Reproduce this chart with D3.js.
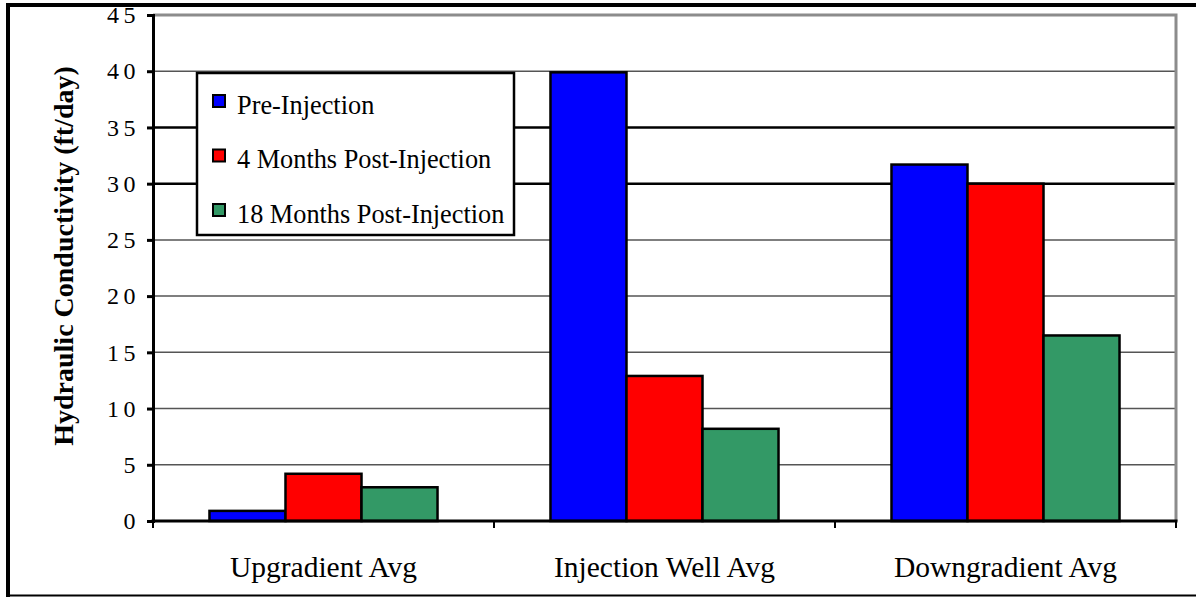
<!DOCTYPE html>
<html>
<head>
<meta charset="utf-8">
<script src="https://cdn.jsdelivr.net/npm/d3@7"></script>
<style>
  html, body { margin: 0; padding: 0; background: #fff; }
  svg { display: block; }
  text { font-family: "Liberation Serif", "Times New Roman", serif; fill: #000; }
</style>
</head>
<body>
<svg id="chart" width="1196" height="597"></svg>
<script>
const categories = ["Upgradient Avg", "Injection Well Avg", "Downgradient Avg"];
const seriesNames = ["Pre-Injection", "4 Months Post-Injection", "18 Months Post-Injection"];
const preInjection = [0.9, 39.9, 31.7];
const post4Months = [4.2, 12.9, 30.0];
const post18Months = [3.0, 8.2, 16.5];
const yTicks = [0, 5, 10, 15, 20, 25, 30, 35, 40, 45];
const colors = ["#0000ff", "#ff0000", "#339966"];
const yLabel = "Hydraulic Conductivity (ft/day)";

const seriesValues = [preInjection, post4Months, post18Months];
const data = categories.map((c, i) => ({
  cat: c,
  vals: seriesNames.map((s, j) => ({ s, j, v: seriesValues[j][i] }))
}));

const svg = d3.select("#chart");
const pLeft = 153, pRight = 1176, pTop = 15, pBottom = 521;
const serif = "Liberation Serif, Times New Roman, serif";

const x0 = d3.scaleBand().domain(categories).range([pLeft, pRight]).paddingInner(0).paddingOuter(0);
const x1 = d3.scaleBand().domain(seriesNames).range([0, x0.bandwidth()]).paddingInner(0).paddingOuter(0.743);
const y = d3.scaleLinear().domain([0, 45]).range([pBottom, pTop]);

// outer frame
svg.append("line").attr("x1", 6).attr("x2", 1196).attr("y1", 5).attr("y2", 5).attr("stroke", "#000").attr("stroke-width", 4);
svg.append("line").attr("x1", 8).attr("x2", 8).attr("y1", 3).attr("y2", 597).attr("stroke", "#000").attr("stroke-width", 4);
svg.append("line").attr("x1", 6).attr("x2", 1196).attr("y1", 595.5).attr("y2", 595.5).attr("stroke", "#000").attr("stroke-width", 2);

// gridlines
const gridTicks = yTicks.filter(t => t > 0 && t < 45);
svg.append("g").selectAll("line").data(gridTicks).join("line")
  .attr("x1", pLeft).attr("x2", pRight)
  .attr("y1", d => y(d)).attr("y2", d => y(d))
  .attr("stroke", d => (d === 30 || d === 35) ? "#000" : "#555")
  .attr("stroke-width", d => (d === 30 || d === 35) ? 2.5 : 1.5);

// plot area top/right grey border
svg.append("path")
  .attr("d", `M${pLeft},${y(45)}H${pRight}V${y(0)}`)
  .attr("fill", "none").attr("stroke", "#8c8c8c").attr("stroke-width", 3);

// bars
const groups = svg.append("g").selectAll("g").data(data).join("g")
  .attr("transform", d => `translate(${x0(d.cat)},0)`);
groups.selectAll("rect").data(d => d.vals).join("rect")
  .attr("x", d => x1(d.s))
  .attr("width", x1.bandwidth())
  .attr("y", d => y(d.v))
  .attr("height", d => y(0) - y(d.v))
  .attr("fill", d => colors[d.j])
  .attr("stroke", "#000").attr("stroke-width", 2.5);

// y axis
const yAxis = d3.axisLeft(y).tickValues(yTicks).tickSize(6).tickPadding(7).tickFormat(d3.format("d"));
const gy = svg.append("g").attr("transform", `translate(${pLeft},0)`).call(yAxis);
gy.attr("font-family", serif);
gy.select(".domain").attr("stroke", "#000").attr("stroke-width", 3);
gy.selectAll(".tick line").attr("stroke", "#000").attr("stroke-width", 3);
gy.selectAll(".tick text").attr("font-family", serif).attr("font-size", 24)
  .attr("letter-spacing", 4.5).attr("fill", "#000");

// x axis
svg.append("line").attr("x1", pLeft - 1.5).attr("x2", pRight + 1.5).attr("y1", pBottom).attr("y2", pBottom)
  .attr("stroke", "#000").attr("stroke-width", 3);
const boundaries = categories.map(c => x0(c)).concat([pRight]);
svg.append("g").selectAll("line").data(boundaries).join("line")
  .attr("x1", d => d).attr("x2", d => d).attr("y1", pBottom).attr("y2", pBottom + 7)
  .attr("stroke", "#000").attr("stroke-width", 2);
svg.append("g").selectAll("text").data(categories).join("text")
  .attr("x", d => x0(d) + x0.bandwidth() / 2)
  .attr("y", 577)
  .attr("text-anchor", "middle")
  .attr("font-family", serif)
  .attr("font-size", 29.5)
  .text(d => d);

// y label
svg.append("text")
  .attr("transform", `translate(73,256) rotate(-90)`)
  .attr("text-anchor", "middle")
  .attr("font-family", serif)
  .attr("font-weight", "bold")
  .attr("font-size", 28)
  .text(yLabel);

// legend
const lg = svg.append("g").attr("transform", "translate(197,73)");
lg.append("rect").attr("x", 0).attr("y", 0).attr("width", 317).attr("height", 162)
  .attr("fill", "#fff").attr("stroke", "#000").attr("stroke-width", 2.5);
const items = lg.selectAll("g.item").data(seriesNames).join("g").attr("class", "item")
  .attr("transform", (d, i) => `translate(16,${28 + i * 54.5})`);
items.append("rect").attr("x", 0).attr("y", -6).attr("width", 12).attr("height", 12)
  .attr("fill", (d, i) => colors[i]).attr("stroke", "#000").attr("stroke-width", 2);
items.append("text").attr("x", 24).attr("y", 12.5).attr("font-family", serif).attr("font-size", 26.3).text(d => d);
</script>
</body>
</html>
